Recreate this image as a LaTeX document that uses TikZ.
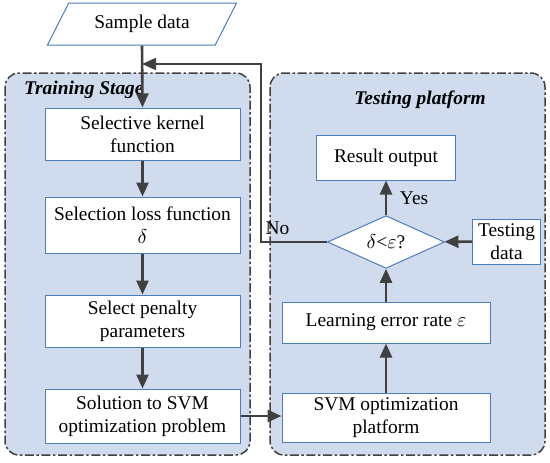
\documentclass[tikz,border=0pt]{standalone}
\usepackage{fontspec}
\setmainfont{Liberation Serif}
\usepackage{tikz}
\usetikzlibrary{positioning,arrows.meta,shapes.geometric}
\definecolor{panelfill}{RGB}{209,219,238}
\definecolor{boxline}{RGB}{74,126,187}
\definecolor{flowgray}{RGB}{64,64,64}

\begin{document}
\begin{tikzpicture}[
  x=0.5pt, y=-0.5pt,
  every node/.style={font=\fontsize{9.7pt}{11.6pt}\selectfont},
  panel/.style={draw=flowgray, fill=panelfill, line width=0.75pt, rounded corners=7pt,
    dash pattern=on 4.5pt off 1.3pt on 1.2pt off 1.3pt},
  stepbox/.style={rectangle, draw=boxline, fill=white, line width=0.5pt, align=center, inner sep=1pt},
  iobox/.style={trapezium, trapezium left angle=63, trapezium right angle=117,
    trapezium stretches=true, draw=boxline, fill=white, line width=0.5pt,
    minimum width=95pt, minimum height=21pt},
  decide/.style={diamond, draw=boxline, fill=white, line width=0.5pt, inner sep=0pt,
    minimum width=58.5pt, minimum height=19.5pt},
  title/.style={font=\fontsize{9.7pt}{11.6pt}\selectfont\bfseries\itshape},
  flow/.style={draw=flowgray, line width=1.3pt, -{Triangle[length=7pt,width=6pt]}}
]
\useasboundingbox (0,0) rectangle (550,462);
% the two stages
\draw[panel] (5,73) rectangle (250,455);
\draw[panel] (270,73) rectangle (545,455);
\node[title, anchor=west] (trainlbl) at (17,90) {Training Stage};
\node[title] (testlbl) at (420,100) {Testing platform};

% input
\node[iobox] (sample) at (142,24) {Sample data};

% training stage
\node[stepbox, minimum width=97.5pt, minimum height=26pt] (kern) at (142.5,134) {Selective kernel\\function};
\node[stepbox, minimum width=97.5pt, minimum height=28pt] (loss) at (142.5,225) {Selection loss function\\$\delta$};
\node[stepbox, minimum width=97.5pt, minimum height=26pt] (pen) at (142.5,321) {Select penalty\\parameters};
\node[stepbox, minimum width=97.5pt, minimum height=27pt] (sol) at (142.5,416) {Solution to SVM\\optimization problem};

% testing platform
\node[stepbox, minimum width=69.5pt, minimum height=22.5pt] (res) at (386,157.5) {Result output};
\node[decide] (cond) at (386,242) {$\delta$<$\varepsilon$?};
\node[stepbox, minimum width=34pt, minimum height=22.5pt] (tdata) at (506.5,241.5) {Testing\\data};
\node[stepbox, minimum width=104pt, minimum height=20.5pt] (learn) at (386,322.5) {Learning error rate $\varepsilon$};
\node[stepbox, minimum width=104pt, minimum height=24.5pt] (svm) at (386,417.5) {SVM optimization\\platform};

% arrows
\draw[flow] (sample.south) -- (kern.north);
\draw[flow] (kern) -- (loss);
\draw[flow] (loss) -- (pen);
\draw[flow] (pen) -- (sol);
\draw[flow] (sol.east) -- (svm.west |- sol.east);
\draw[flow] (svm) -- (learn);
\draw[flow] (learn) -- (cond);
\draw[flow] (cond) -- node[right=3pt] {Yes} (res);
\draw[flow] (tdata) -- (cond);
% feedback when the error is too large
\coordinate (turn) at (261,64);
\draw[flow, line width=0.8pt] (cond.west) -- node[above, pos=0.75] {No} (cond.west -| turn) -- (turn) -- (sample.south |- turn);
\end{tikzpicture}
\end{document}
